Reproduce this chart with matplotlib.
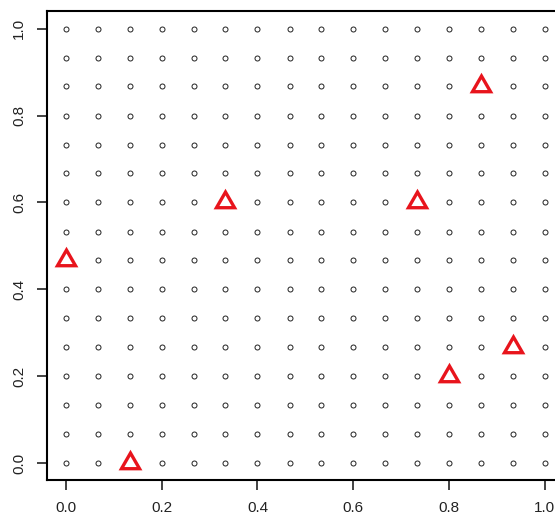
import numpy as np
import matplotlib.pyplot as plt

# regular candidate grid on the unit square
grid_vals = [0.0, 0.067, 0.133, 0.2, 0.267, 0.333, 0.4, 0.467,
             0.533, 0.6, 0.667, 0.733, 0.8, 0.867, 0.933, 1.0]

# chosen design points
design_x = [0.0, 0.133, 0.333, 0.733, 0.867, 0.8, 0.933]
design_y = [0.467, 0.0, 0.6, 0.6, 0.867, 0.2, 0.267]

ticks = [0.0, 0.2, 0.4, 0.6, 0.8, 1.0]
tick_labels = ['0.0', '0.2', '0.4', '0.6', '0.8', '1.0']

plt.rcParams['font.family'] = ['Liberation Sans', 'DejaVu Sans']

gx, gy = np.meshgrid(grid_vals, grid_vals)
gx = gx.ravel()
gy = gy.ravel()
chosen = set(zip(design_x, design_y))
keep = np.array([(a, b) not in chosen for a, b in zip(gx, gy)])

fig = plt.figure(figsize=(5.55, 5.18), dpi=100)
ax = fig.add_axes([0.0843, 0.0726, 0.9317, 0.9055])

ax.plot(gx[keep], gy[keep], linestyle='none', marker='o', markersize=3.6,
        markerfacecolor='none', markeredgecolor='#222222', markeredgewidth=0.7)

# open triangles for the design points
ax.plot(design_x, design_y, linestyle='none', marker=(3, 0, 0), markersize=15,
        markerfacecolor='none', markeredgecolor='#e8141c', markeredgewidth=2.4)

ax.set_xlim(-0.04, 1.04)
ax.set_ylim(-0.04, 1.04)
ax.set_xticks(ticks)
ax.set_xticklabels(tick_labels)
ax.set_yticks(ticks)
ax.set_yticklabels(tick_labels, rotation=90, va='center')
ax.tick_params(direction='out', length=7, width=1.2, labelsize=11, pad=8,
               colors='#222222')
for sp in ax.spines.values():
    sp.set_linewidth(1.5)

fig.savefig('out.png', dpi=100)
